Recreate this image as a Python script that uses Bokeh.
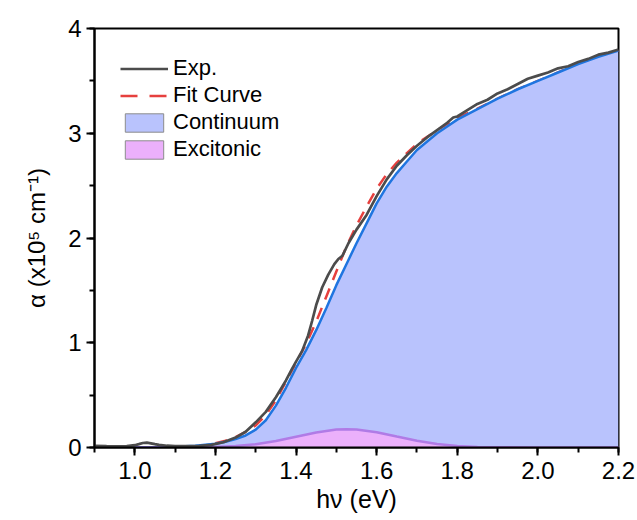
import math
from bokeh.plotting import figure
from bokeh.models import Range1d, SingleIntervalTicker, PrintfTickFormatter, Legend, LegendItem
from bokeh.embed import file_html
from bokeh.resources import INLINE

# ---- data ----
E_exp = [0.90, 0.93, 0.96, 0.98, 1.00, 1.01, 1.02, 1.03, 1.04, 1.05, 1.06, 1.08, 1.10, 1.13, 1.16,
         1.19, 1.22, 1.25, 1.275, 1.30, 1.325, 1.35, 1.375, 1.39, 1.40, 1.415, 1.43, 1.44, 1.45, 1.465,
         1.48, 1.495, 1.505, 1.515, 1.53, 1.55, 1.575, 1.60, 1.625, 1.65, 1.675, 1.70, 1.725, 1.75, 1.775,
         1.79, 1.80, 1.825, 1.85, 1.875, 1.90, 1.925, 1.95, 1.975, 2.00, 2.025, 2.05, 2.075, 2.10, 2.125,
         2.15, 2.175, 2.20]
a_exp = [0.015, 0.013, 0.012, 0.014, 0.022, 0.032, 0.043, 0.046, 0.040, 0.032, 0.025, 0.017, 0.013, 0.013, 0.016,
         0.025, 0.05, 0.095, 0.15, 0.24, 0.34, 0.48, 0.64, 0.75, 0.82, 0.92, 1.07, 1.21, 1.36, 1.53,
         1.65, 1.75, 1.80, 1.83, 1.95, 2.08, 2.22, 2.40, 2.56, 2.69, 2.79, 2.88, 2.96, 3.03, 3.10,
         3.15, 3.16, 3.22, 3.28, 3.32, 3.38, 3.42, 3.47, 3.52, 3.55, 3.58, 3.62, 3.64, 3.68, 3.71,
         3.75, 3.77, 3.80]

E_fit = [1.20, 1.225, 1.25, 1.275, 1.30, 1.325, 1.35, 1.375, 1.40, 1.425, 1.45, 1.475, 1.50, 1.525, 1.55,
         1.575, 1.60, 1.625, 1.65, 1.675, 1.70, 1.75, 1.80, 1.85, 1.90, 1.95, 2.00, 2.05, 2.10, 2.15, 2.20]
a_fit = [0.04, 0.065, 0.10, 0.15, 0.21, 0.31, 0.45, 0.63, 0.81, 0.99, 1.20, 1.44, 1.68, 1.92, 2.12,
         2.30, 2.47, 2.61, 2.72, 2.81, 2.90, 3.03, 3.145, 3.235, 3.33, 3.42, 3.50, 3.58, 3.66, 3.73, 3.79]

E_cont = [1.00, 1.05, 1.10, 1.15, 1.20, 1.225, 1.25, 1.275, 1.30, 1.325, 1.35, 1.375, 1.40, 1.425, 1.45,
          1.475, 1.50, 1.525, 1.55, 1.575, 1.60, 1.625, 1.65, 1.675, 1.70, 1.75, 1.80, 1.85, 1.90, 1.95,
          2.00, 2.05, 2.10, 2.15, 2.20]
a_cont = [0.002, 0.004, 0.008, 0.016, 0.035, 0.055, 0.08, 0.115, 0.17, 0.26, 0.40, 0.57, 0.76, 0.93, 1.12,
          1.33, 1.55, 1.75, 1.95, 2.14, 2.33, 2.49, 2.62, 2.73, 2.84, 3.00, 3.13, 3.23, 3.33, 3.42,
          3.50, 3.58, 3.66, 3.73, 3.79]

E_exc = [1.00, 1.10, 1.15, 1.20, 1.25, 1.30, 1.35, 1.40, 1.45, 1.50, 1.525, 1.55, 1.60, 1.65, 1.70,
         1.75, 1.80, 1.85, 1.90, 2.00, 2.10, 2.20]
a_exc = [0.0001, 0.0005, 0.0016, 0.005, 0.014, 0.032, 0.062, 0.103, 0.143, 0.171, 0.175, 0.172, 0.146, 0.105, 0.065,
         0.034, 0.015, 0.0055, 0.0018, 0.0002, 0.0, 0.0]

legend_labels = ["Exp.", "Fit Curve", "Continuum", "Excitonic"]

# ---- styling ----
FONT = "Liberation Sans"
C_EXP = "#4c4c4c"
C_FIT = "#e6403e"
C_CONT_LINE = "#1f75e0"
C_CONT_FILL = "#b9c3fd"
C_EXC_LINE = "#b07be6"
C_EXC_FILL = "#ebb0fb"

p = figure(width=637, height=520, x_range=Range1d(0.9, 2.2), y_range=Range1d(0, 4),
           output_backend="svg", toolbar_location=None,
           min_border_left=94, min_border_right=19, min_border_top=28, min_border_bottom=73)
p.grid.visible = False
p.background_fill_color = "white"
p.border_fill_color = "white"
p.outline_line_color = "black"
p.outline_line_width = 2

fit_r = p.line(E_fit, a_fit, line_color=C_FIT, line_width=2.5, line_dash="12 9")
p.varea(x=E_cont, y1=[0] * len(E_cont), y2=a_cont, fill_color=C_CONT_FILL)
p.line(E_cont, a_cont, line_color=C_CONT_LINE, line_width=2.5)
p.varea(x=E_exc, y1=[0] * len(E_exc), y2=a_exc, fill_color=C_EXC_FILL)
p.line(E_exc, a_exc, line_color=C_EXC_LINE, line_width=2.5)
exp_r = p.line(E_exp, a_exp, line_color=C_EXP, line_width=2.7)

nan = float("nan")
fit_leg = p.line([nan], [nan], line_color=C_FIT, line_width=2.5, line_dash="17 12")
cont_leg = p.rect([nan], [nan], width=1, height=1, fill_color=C_CONT_FILL, line_color="#8c8c8c", line_width=1)
exc_leg = p.rect([nan], [nan], width=1, height=1, fill_color=C_EXC_FILL, line_color="#8c8c8c", line_width=1)

legend = Legend(items=[LegendItem(label=legend_labels[0], renderers=[exp_r]),
                       LegendItem(label=legend_labels[1], renderers=[fit_leg]),
                       LegendItem(label=legend_labels[2], renderers=[cont_leg]),
                       LegendItem(label=legend_labels[3], renderers=[exc_leg])],
                location=(26, 285), padding=0, margin=0, spacing=1,
                glyph_width=48, glyph_height=23, label_height=23, label_standoff=5,
                label_text_font=FONT, label_text_font_size="22px", label_text_color="black",
                border_line_color=None, background_fill_alpha=0)
p.add_layout(legend, "center")

# axes
xa = p.xaxis[0]
xa.ticker = SingleIntervalTicker(interval=0.2, num_minor_ticks=2)
xa.formatter = PrintfTickFormatter(format="%.1f")
ya = p.yaxis[0]
ya.ticker = SingleIntervalTicker(interval=1, num_minor_ticks=2)

for ax in (xa, ya):
    ax.axis_line_width = 2
    ax.axis_line_color = "black"
    ax.major_tick_line_width = 2
    ax.minor_tick_line_width = 2
    ax.major_tick_in = 0
    ax.major_tick_out = 8
    ax.minor_tick_in = 0
    ax.minor_tick_out = 5
    ax.major_label_text_font = FONT
    ax.major_label_text_font_size = "24px"
    ax.major_label_text_color = "black"
    ax.axis_label_text_font = FONT
    ax.axis_label_text_font_style = "normal"
    ax.axis_label_text_color = "black"

xa.axis_label = "h\u03bd (eV)"
xa.axis_label_text_font_size = "25px"
xa.major_label_standoff = 6
xa.axis_label_standoff = 3

ya.axis_label = "\u03b1 (x10\u2075 cm\u207b\u00b9)"
ya.axis_label_text_font_size = "24px"
ya.major_label_standoff = 5
ya.axis_label_standoff = 15

open("out.html", "w").write(file_html(p, INLINE))
